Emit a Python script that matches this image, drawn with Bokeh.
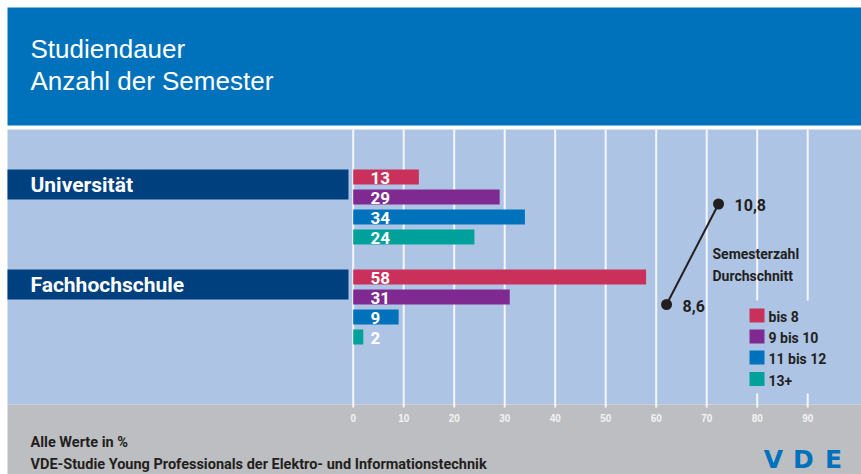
from bokeh.plotting import figure
from bokeh.models import Range1d, ColumnDataSource
from bokeh.embed import file_html
from bokeh.resources import INLINE
from bokeh.core.properties import value

# ---------------- data ----------------
groups = ["Universität", "Fachhochschule"]
classes = ["bis 8", "9 bis 10", "11 bis 12", "13+"]
uni_values = [13, 29, 34, 24]
fh_values = [58, 31, 9, 2]
avg_values = [10.8, 8.6]          # Universität, Fachhochschule
avg_labels = ["10,8", "8,6"]
ticks = [0, 10, 20, 30, 40, 50, 60, 70, 80, 90]
tick_labels = [str(t) for t in ticks]
title_lines = ["Studiendauer", "Anzahl der Semester"]
footer_lines = ["Alle Werte in %",
                "VDE-Studie Young Professionals der Elektro- und Informationstechnik"]
avg_title = ["Semesterzahl", "Durchschnitt"]
colors = ["#c9315a", "#7f2a90", "#0072bc", "#00a19b"]

# ---------------- layout helpers ----------------
W, H = 861, 474
ZERO_PX = 352.7      # page px of value 0
PPU = 5.05           # px per percent
def px2x(px):
    return (px - ZERO_PX) / PPU

x_start, x_end = px2x(0), px2x(W)
L = px2x(7)

HEADER = "#0072bb"
BG = "#aec4e4"
GRAY = "#bdbec1"
BAND = "#00407f"
DARK = "#231f20"
BOLD = value("Roboto")
SANS = value("Liberation Sans")

p = figure(width=W, height=H, x_range=Range1d(x_start, x_end), y_range=Range1d(H, 0),
           output_backend="svg", toolbar_location=None,
           x_axis_location=None, y_axis_location=None, min_border=0)
p.grid.visible = False
p.outline_line_color = None
p.background_fill_color = "white"
p.border_fill_color = "white"

# background areas
p.quad(left=L, right=x_end, top=7, bottom=125, color=HEADER, line_color=None)
p.quad(left=L, right=x_end, top=129, bottom=404, color=BG, line_color=None)
p.quad(left=L, right=x_end, top=404, bottom=H, color=GRAY, line_color=None)

# grid lines
p.segment(x0=ticks, y0=[129] * len(ticks), x1=ticks, y1=[407] * len(ticks),
          line_color="#f4f6fb", line_width=2)
# legend background interrupting grid
p.quad(left=px2x(740), right=x_end, top=300, bottom=393, color=BG, line_color=None)

# tick labels
p.text(x=ticks, y=[417] * len(ticks), text=tick_labels, text_font=SANS,
       text_font_size="10px", text_font_style="bold", text_color="#f3f3f3",
       text_align="center", text_baseline="middle")

# group bands and labels
band_tops = [169, 269]
p.quad(left=L, right=px2x(348), top=band_tops, bottom=[t + 30 for t in band_tops],
       color=BAND, line_color=None)
p.text(x=[px2x(30)] * 2, y=[t + 15.5 for t in band_tops], text=groups, text_font=BOLD,
       text_font_size="21px", text_font_style="bold", text_color="white",
       text_align="left", text_baseline="middle")

# bars
for g, vals in enumerate([uni_values, fh_values]):
    ys = [band_tops[g] + 7.5 + 20 * i for i in range(len(vals))]
    src = ColumnDataSource(dict(y=ys, v=vals, c=colors, lab=[str(v) for v in vals]))
    p.hbar(y="y", left=0, right="v", height=15, color="c", line_color=None, source=src)
    p.text(x=px2x(370), y="y", text="lab", source=src, text_font=BOLD,
           text_font_size="17px", text_font_style="bold", text_color="white",
           text_align="left", text_baseline="middle", y_offset=1)

# average semester line
avg_x = [21.8 + a * 4.68 for a in avg_values]
avg_y = [203.5, 304]
p.line(x=avg_x, y=avg_y, line_color=DARK, line_width=2)
p.scatter(x=avg_x, y=avg_y, size=11, color=DARK, line_color=None)
p.text(x=avg_x, y=avg_y, text=avg_labels, x_offset=16, y_offset=1, text_font=BOLD,
       text_font_size="16px", text_font_style="bold", text_color=DARK,
       text_align="left", text_baseline="middle")
p.text(x=[px2x(712)] * 2, y=[253, 275], text=avg_title, text_font=BOLD,
       text_font_size="14px", text_font_style="bold", text_color=DARK,
       text_align="left", text_baseline="middle")

# legend
leg_y = [315, 336, 357, 378.5]
p.quad(left=px2x(749), right=px2x(764), top=[y - 7 for y in leg_y],
       bottom=[y + 7 for y in leg_y], color=colors, line_color=None)
p.text(x=[px2x(768)] * 4, y=leg_y, text=classes, y_offset=1, text_font=BOLD,
       text_font_size="14px", text_font_style="bold", text_color=DARK,
       text_align="left", text_baseline="middle")

# title
p.text(x=[px2x(30)] * 2, y=[48, 80], text=title_lines, text_font=SANS,
       text_font_size="26px", text_color="white", text_align="left",
       text_baseline="middle")

# footer
p.text(x=[px2x(30)] * 2, y=[442, 464], text=footer_lines, text_font=BOLD,
       text_font_size="14.5px", text_font_style="bold", text_color=DARK,
       text_align="left", text_baseline="middle")

# VDE logo
p.text(x=[px2x(773), px2x(803), px2x(833)], y=[459, 459, 459], text=["V", "D", "E"],
       text_font=value("DejaVu Sans"), text_font_size="25px", text_font_style="bold",
       text_color="#0072bc", text_align="center", text_baseline="middle")

html = file_html(p, INLINE)
html = html.replace("</head>", "<style>html,body{overflow:hidden;}</style></head>")
open("out.html", "w").write(html)
